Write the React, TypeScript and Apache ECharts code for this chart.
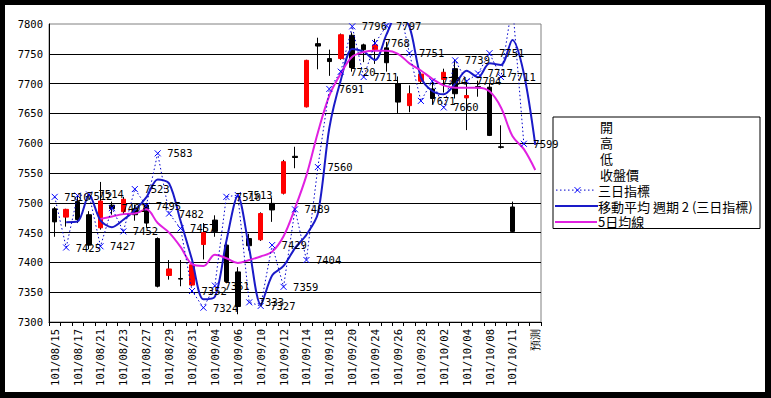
import React, { useEffect, useRef } from "react";
import * as echarts from "echarts";

const categories = [
  "101/08/15", "101/08/16", "101/08/17", "101/08/20", "101/08/21", "101/08/22", "101/08/23", "101/08/24",
  "101/08/27", "101/08/28", "101/08/29", "101/08/30", "101/08/31", "101/09/03", "101/09/04", "101/09/05",
  "101/09/06", "101/09/07", "101/09/10", "101/09/11", "101/09/12", "101/09/13", "101/09/14", "101/09/17",
  "101/09/18", "101/09/19", "101/09/20", "101/09/21", "101/09/24", "101/09/25", "101/09/26", "101/09/27",
  "101/09/28", "101/10/01", "101/10/02", "101/10/03", "101/10/04", "101/10/05", "101/10/08", "101/10/09",
  "101/10/11", "101/10/12", "預測",
];

const openP = [7490, 7476, 7502, 7480, 7458, 7496, 7485, 7490, 7496, 7440, 7378, 7373, 7362, 7430, 7471, 7429, 7384, 7440, 7438, 7499, 7516, 7578, 7661, 7767, 7742, 7742, 7781, 7765, 7757, 7760, 7700, 7663, 7704, 7691, 7707, 7725, 7676, 7695, 7694, 7594, 7493, null, null];
const closeP = [7468, 7489, 7472, 7429, 7503, 7490, 7506, 7480, 7466, 7360, 7389, 7372, 7396, 7450, 7452, 7368, 7326, 7428, 7482, 7488, 7569, 7576, 7739, 7763, 7737, 7782, 7727, 7757, 7765, 7735, 7669, 7683, 7716, 7675, 7719, 7683, 7680, 7693, 7613, 7593, 7452, null, null];
const lowP = [7443, 7460, 7466, 7422, 7455, 7480, 7480, 7470, 7458, 7358, 7371, 7360, 7360, 7405, 7443, 7365, 7313, 7420, 7436, 7468, 7514, 7558, 7660, 7724, 7713, 7740, 7720, 7736, 7733, 7720, 7650, 7652, 7700, 7665, 7685, 7675, 7622, 7678, 7612, 7591, 7450, null, null];
const highP = [7493, 7490, 7512, 7486, 7535, 7502, 7510, 7497, 7500, 7442, 7404, 7404, 7401, 7466, 7479, 7432, 7392, 7448, 7484, 7508, 7572, 7594, 7740, 7777, 7757, 7784, 7786, 7767, 7775, 7770, 7712, 7697, 7719, 7705, 7725, 7740, 7705, 7705, 7700, 7630, 7502, null, null];

const threeDay = [7510, 7425, 7512, 7514, 7427, 7491, 7452, 7523, 7495, 7583, 7482, 7457, 7352, 7324, 7361, 7510, 7513, 7333, 7327, 7429, 7359, 7489, 7404, 7560, 7691, 7720, 7796, 7711, 7768, 7797, 7840, 7751, 7671, 7704, 7660, 7739, 7704, 7717, 7751, 7711, 7835, 7599, null];
const movAvg2 = [null, 7467.5, 7468.5, 7513, 7470.5, 7459, 7471.5, 7487.5, 7509, 7539, 7532.5, 7469.5, 7404.5, 7338, 7342.5, 7435.5, 7511.5, 7423, 7330, 7378, 7394, 7424, 7446.5, 7482, 7625.5, 7705.5, 7758, 7753.5, 7739.5, 7782.5, 7818.5, 7795.5, 7711, 7687.5, 7682, 7699.5, 7721.5, 7710.5, 7734, 7731, 7773, 7717, 7597];
const ma5 = [null, null, null, null, 7473, 7477, 7481, 7482, 7489, 7466, 7450, 7426, 7397, 7394, 7413, 7407, 7399, 7404, 7410, 7418, 7444, 7491, 7546, 7618, 7680, 7717, 7745, 7753, 7755, 7755, 7750, 7734, 7722, 7708, 7697, 7693, 7693, 7693, 7687, 7660, 7612, 7590, 7555];

const legendNames = ["開", "高", "低", "收盤價", "三日指標", "移動平均 週期 2 (三日指標)", "5日均線"];

const Y_MIN = 7300;
const Y_MAX = 7800;
const Y_STEP = 50;

const numFont = "'DejaVu Sans Mono', monospace";
const cjkFont = "'Noto Sans CJK TC', sans-serif";

const nz = (v: number | null) => (v == null ? "-" : v);

export default function App() {
  const ref = useRef<HTMLDivElement>(null);

  useEffect(() => {
    if (!ref.current) return;
    const chart = echarts.init(ref.current, null, { renderer: "svg" });

    const wickData = openP.map((o, i) =>
      o == null ? ["-", "-", "-", "-"] : [o, closeP[i], lowP[i], highP[i]]
    );
    const bodyData = openP.map((o, i) => {
      const c = closeP[i];
      if (o == null || c == null) return ["-", "-", "-", "-"];
      return [o, c, Math.min(o, c), Math.max(o, c)];
    });

    const legendTop = 112;
    const rowH = 15.9;
    const rowY = (k: number) => legendTop + 9.5 + rowH * k;

    const legendChildren: any[] = [
      {
        type: "rect",
        shape: { x: 548, y: legendTop, width: 207, height: 111.5 },
        style: { fill: "#ffffff", stroke: "#000000", lineWidth: 1 },
      },
    ];
    legendNames.forEach((name, k) => {
      legendChildren.push({
        type: "text",
        x: k < 4 ? 595 : 593,
        y: rowY(k),
        style: {
          text: name,
          fill: "#000",
          font: `13px ${cjkFont}`,
          verticalAlign: "middle",
          textVerticalAlign: "middle",
        },
      });
    });
    legendChildren.push(
      {
        type: "line",
        shape: { x1: 551, y1: rowY(4), x2: 591, y2: rowY(4) },
        style: { stroke: "#0000CC", lineWidth: 1, lineDash: [1.5, 2.5] },
      },
      {
        type: "line",
        shape: { x1: 569.5, y1: rowY(4) - 3, x2: 575.5, y2: rowY(4) + 3 },
        style: { stroke: "#0000FF", lineWidth: 1 },
      },
      {
        type: "line",
        shape: { x1: 575.5, y1: rowY(4) - 3, x2: 569.5, y2: rowY(4) + 3 },
        style: { stroke: "#0000FF", lineWidth: 1 },
      },
      {
        type: "line",
        shape: { x1: 550, y1: rowY(5), x2: 593, y2: rowY(5) },
        style: { stroke: "#1A1AC8", lineWidth: 2 },
      },
      {
        type: "line",
        shape: { x1: 550, y1: rowY(6), x2: 592, y2: rowY(6) },
        style: { stroke: "#E020E0", lineWidth: 2 },
      }
    );

    chart.setOption({
      animation: false,
      backgroundColor: "transparent",
      grid: {
        left: 44,
        top: 19,
        right: 224,
        bottom: 70,
        show: true,
        borderColor: "#808080",
        borderWidth: 1,
        backgroundColor: "transparent",
      },
      xAxis: {
        type: "category",
        data: categories,
        boundaryGap: true,
        axisLine: { show: true, lineStyle: { color: "#000", width: 1 } },
        axisTick: { show: true, interval: 0, length: 4, lineStyle: { color: "#000" } },
        axisLabel: {
          interval: 1,
          rotate: 90,
          color: "#000",
          fontSize: 10.5,
          fontFamily: numFont,
          margin: 7,
        },
        splitLine: { show: false },
      },
      yAxis: {
        type: "value",
        min: Y_MIN,
        max: Y_MAX,
        interval: Y_STEP,
        axisLine: { show: true, lineStyle: { color: "#000", width: 1 } },
        axisTick: { show: false },
        axisLabel: {
          color: "#000",
          fontSize: 10.5,
          fontFamily: numFont,
          margin: 6,
          formatter: (v: number) => String(v),
        },
        splitLine: { show: true, showMaxLine: false, lineStyle: { color: "#000", width: 1 } },
      },
      series: [
        {
          name: "wick",
          type: "candlestick",
          data: wickData,
          barWidth: 1,
          itemStyle: {
            color: "#000",
            color0: "#000",
            borderColor: "#000",
            borderColor0: "#000",
            borderWidth: 1,
          },
          z: 2,
        },
        {
          name: "body",
          type: "candlestick",
          data: bodyData,
          barWidth: 5,
          itemStyle: {
            color: "#FF0000",
            color0: "#000000",
            borderColor: "#FF0000",
            borderColor0: "#000000",
            borderWidth: 1,
          },
          z: 3,
        },
        {
          name: "三日指標",
          type: "line",
          data: threeDay.map(nz),
          symbol: "path://M0,0L10,10M10,0L0,10",
          symbolSize: 6,
          showSymbol: true,
          lineStyle: { color: "#0000CC", width: 1, type: [1.5, 2.5] },
          itemStyle: { color: "#0000FF", borderColor: "#0000FF", borderWidth: 1 },
          label: {
            show: true,
            position: "right",
            distance: 6,
            color: "#000",
            fontSize: 10.5,
            fontFamily: numFont,
            formatter: (p: any) => {
              const v = Array.isArray(p.value) ? p.value[1] : p.value;
              return typeof v === "number" && v <= Y_MAX ? String(v) : "";
            },
          },
          z: 5,
        },
        {
          name: "移動平均 週期 2 (三日指標)",
          type: "line",
          data: movAvg2.map(nz),
          smooth: 0.3,
          showSymbol: false,
          lineStyle: { color: "#1A1AC8", width: 2 },
          itemStyle: { color: "#1A1AC8" },
          z: 4,
        },
        {
          name: "5日均線",
          type: "line",
          data: ma5.map(nz),
          smooth: 0.35,
          showSymbol: false,
          lineStyle: { color: "#E020E0", width: 2 },
          itemStyle: { color: "#E020E0" },
          z: 4,
        },
      ],
      graphic: [{ type: "group", z: 100, children: legendChildren }],
    });

    return () => chart.dispose();
  }, []);

  return (
    <div style={{ position: "absolute", left: 0, top: 0, width: 771, height: 398, background: "#000" }}>
      <div
        ref={ref}
        style={{ position: "absolute", left: 5, top: 5, width: 760, height: 387, background: "#fff" }}
      />
    </div>
  );
}
